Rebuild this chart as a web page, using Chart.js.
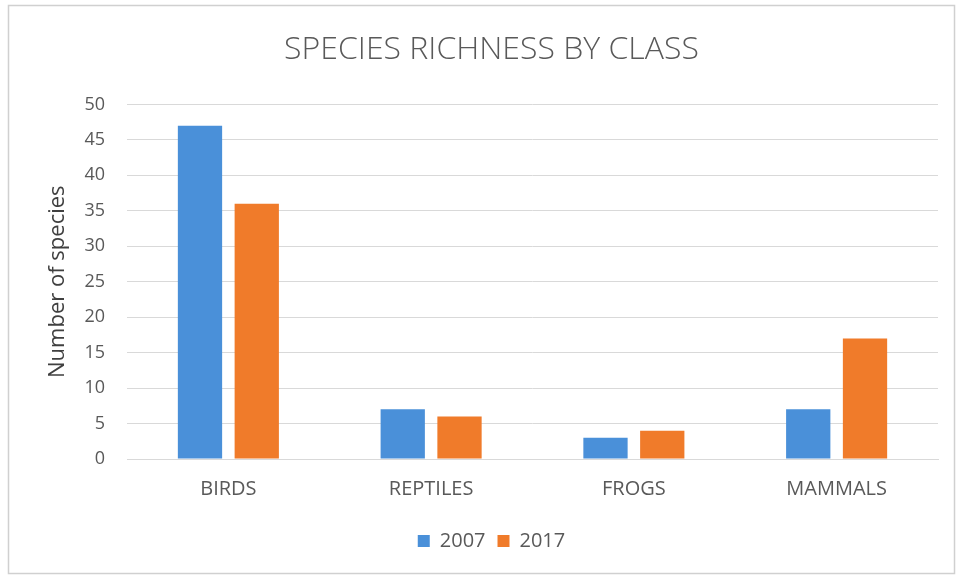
<!DOCTYPE html>
<html>
<head>
<meta charset="utf-8">
<script src="https://cdn.jsdelivr.net/npm/chart.js@4.4.0/dist/chart.umd.min.js"></script>
<style>
  html, body { margin: 0; padding: 0; background: #ffffff; }
  #wrap { width: 958px; height: 578px; position: relative; }
</style>
</head>
<body>
<div id="wrap"><canvas id="c" width="958" height="578"></canvas></div>
<script>
const categories = ["BIRDS", "REPTILES", "FROGS", "MAMMALS"];
const series2007 = [47, 7, 3, 7];
const series2017 = [36, 6, 4, 17];
const seriesLabels = ["2007", "2017"];
const yTicks = [0, 5, 10, 15, 20, 25, 30, 35, 40, 45, 50];

const frame = {
  id: 'frame',
  beforeDraw(chart) {
    const ctx = chart.ctx;
    ctx.save();
    ctx.fillStyle = '#ffffff';
    ctx.fillRect(0, 0, chart.width, chart.height);
    ctx.strokeStyle = '#d0d0d0';
    ctx.lineWidth = 1.5;
    ctx.strokeRect(8.5, 5.5, chart.width - 12, chart.height - 10);
    ctx.restore();
  }
};

new Chart(document.getElementById('c'), {
  type: 'bar',
  data: {
    labels: categories,
    datasets: [
      { label: seriesLabels[0], data: series2007, backgroundColor: '#4a90d9', categoryPercentage: 0.56, barPercentage: 0.78 },
      { label: seriesLabels[1], data: series2017, backgroundColor: '#f07b2a', categoryPercentage: 0.56, barPercentage: 0.78 }
    ]
  },
  options: {
    responsive: false,
    animation: false,
    devicePixelRatio: 1,
    layout: { padding: { left: 45, right: 20, top: 24, bottom: 17 } },
    plugins: {
      title: {
        display: true,
        text: 'SPECIES RICHNESS BY CLASS',
        color: '#595959',
        font: { family: 'Open Sans', size: 32, weight: '300' },
        padding: { top: 7, bottom: 35 }
      },
      legend: {
        position: 'bottom',
        labels: {
          color: '#595959',
          font: { family: 'Open Sans', size: 20 },
          boxWidth: 12,
          boxHeight: 12,
          padding: 12
        }
      },
      tooltip: { enabled: false }
    },
    scales: {
      x: {
        grid: { display: false, drawTicks: false },
        border: { display: true, color: '#d9d9d9' },
        ticks: { color: '#595959', font: { family: 'Open Sans', size: 20 }, padding: 18 }
      },
      y: {
        min: 0,
        max: 50,
        afterBuildTicks(axis) { axis.ticks = yTicks.map(v => ({ value: v })); },
        afterFit(axis) { axis.width = 82; },
        grid: { color: '#d9d9d9', drawTicks: false },
        border: { display: false },
        ticks: { color: '#595959', font: { family: 'Open Sans', size: 18 }, padding: 22 },
        title: {
          display: true,
          text: 'Number of species',
          color: '#404040',
          font: { family: 'Open Sans', size: 22 },
          padding: { top: 0, bottom: 4 }
        }
      }
    }
  },
  plugins: [frame]
});
</script>
</body>
</html>
